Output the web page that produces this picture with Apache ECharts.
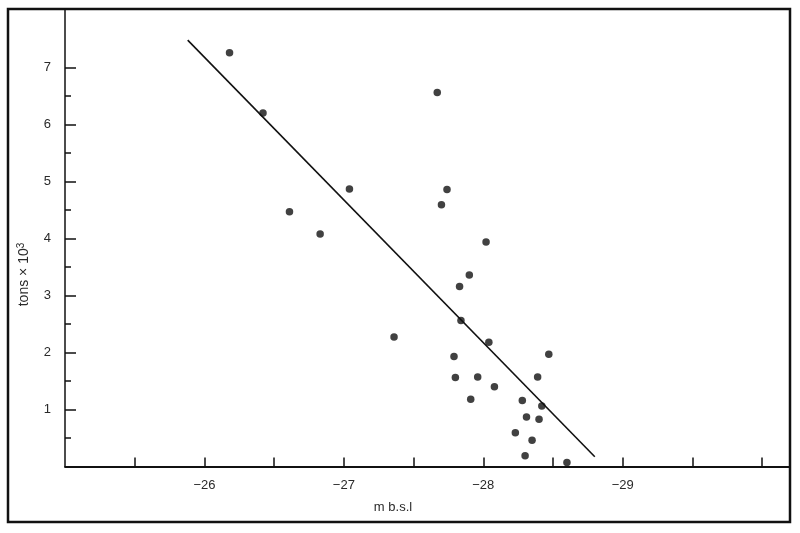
<!DOCTYPE html>
<html>
<head>
<meta charset="utf-8">
<script src="https://cdn.jsdelivr.net/npm/echarts@6/dist/echarts.min.js"></script>
<style>
  html, body { margin: 0; padding: 0; background: #fff; }
  #chart { width: 800px; height: 533px; }
</style>
</head>
<body>
<div id="chart"></div>
<script>
// Depth (m b.s.l) of each observation
const depth = [-26.18, -26.42, -26.61, -26.83, -27.04, -27.36, -27.67, -27.74, -27.70, -28.02,
               -27.90, -27.83, -27.84, -28.04, -27.79, -28.47, -27.80, -27.96, -28.39, -28.08,
               -27.91, -28.28, -28.42, -28.31, -28.40, -28.23, -28.35, -28.30, -28.60];
// Tonnage (tons x 10^3) of each observation
const tons = [7.26, 6.20, 4.47, 4.08, 4.87, 2.27, 6.56, 4.86, 4.59, 3.94,
              3.36, 3.16, 2.56, 2.18, 1.93, 1.97, 1.56, 1.57, 1.57, 1.40,
              1.18, 1.16, 1.06, 0.87, 0.83, 0.59, 0.46, 0.19, 0.07];
// Regression line end points
const fitDepth = [-25.88, -28.80];
const fitTons = [7.48, 0.17];
// Tick marks and tick labels
const xTicks = [-25.5, -26, -26.5, -27, -27.5, -28, -28.5, -29, -29.5, -30];
const xTickLabels = [-26, -27, -28, -29];
const yTicksMajor = [1, 2, 3, 4, 5, 6, 7];
const yTicksMinor = [0.5, 1.5, 2.5, 3.5, 4.5, 5.5, 6.5];
const yTickLabels = [1, 2, 3, 4, 5, 6, 7];

const points = depth.map((d, i) => [d, tons[i]]);
const fitLine = fitDepth.map((d, i) => [d, fitTons[i]]);

const FONT = 'Liberation Sans, Arial, sans-serif';
const TXT = '#2a2a2a';

const chart = echarts.init(document.getElementById('chart'), null, { renderer: 'canvas' });
chart.setOption({
  backgroundColor: '#fff',
  animation: false,
  grid: { left: 65, right: 10, top: 10.5, bottom: 66.5, containLabel: false },
  xAxis: {
    type: 'value',
    inverse: true,
    min: -30.2,
    max: -25,
    name: 'm b.s.l',
    nameLocation: 'middle',
    nameGap: 34,
    nameTextStyle: { fontFamily: FONT, fontSize: 13, color: TXT, padding: [0, 69, 0, 0] },
    axisLine: { show: true, lineStyle: { color: '#111', width: 1.8 } },
    axisTick: { show: true, inside: true, length: 9, customValues: xTicks, lineStyle: { color: '#111', width: 1.5 } },
    axisLabel: {
      show: true, customValues: xTickLabels, margin: 12,
      fontFamily: FONT, fontSize: 13, color: TXT,
      formatter: v => (v < 0 ? '\u2212' : '') + Math.abs(v)
    },
    splitLine: { show: false }
  },
  yAxis: [
    {
      type: 'value',
      min: 0,
      max: 8,
      position: 'left',
      name: 'tons \u00d7 10{sup|3}',
      nameLocation: 'middle',
      nameRotate: 90,
      nameGap: 32,
      nameTextStyle: {
        fontFamily: FONT, fontSize: 14, color: TXT, padding: [0, 72, 0, 0],
        rich: { sup: { fontFamily: FONT, fontSize: 10, color: TXT, verticalAlign: 'bottom', padding: [0, 0, 7, 0] } }
      },
      axisLine: { show: true, lineStyle: { color: '#111', width: 1.5 } },
      axisTick: { show: true, inside: true, length: 11, customValues: yTicksMajor, lineStyle: { color: '#111', width: 1.5 } },
      axisLabel: { show: true, customValues: yTickLabels, margin: 14, fontFamily: FONT, fontSize: 13, color: TXT },
      splitLine: { show: false }
    },
    {
      type: 'value',
      min: 0,
      max: 8,
      position: 'left',
      offset: 0,
      axisLine: { show: false },
      axisTick: { show: true, inside: true, length: 6, customValues: yTicksMinor, lineStyle: { color: '#111', width: 1.5 } },
      axisLabel: { show: false },
      splitLine: { show: false }
    }
  ],
  graphic: [
    {
      type: 'rect',
      shape: { x: 8, y: 9, width: 782, height: 513 },
      style: { fill: 'none', stroke: '#111', lineWidth: 2.5 },
      silent: true
    }
  ],
  series: [
    {
      type: 'line',
      data: fitLine,
      symbol: 'none',
      lineStyle: { color: '#111', width: 1.6 },
      clip: false,
      z: 2
    },
    {
      type: 'scatter',
      data: points,
      symbol: 'circle',
      symbolSize: 7.5,
      itemStyle: { color: '#111' },
      clip: false,
      z: 3
    }
  ]
});
</script>
</body>
</html>
